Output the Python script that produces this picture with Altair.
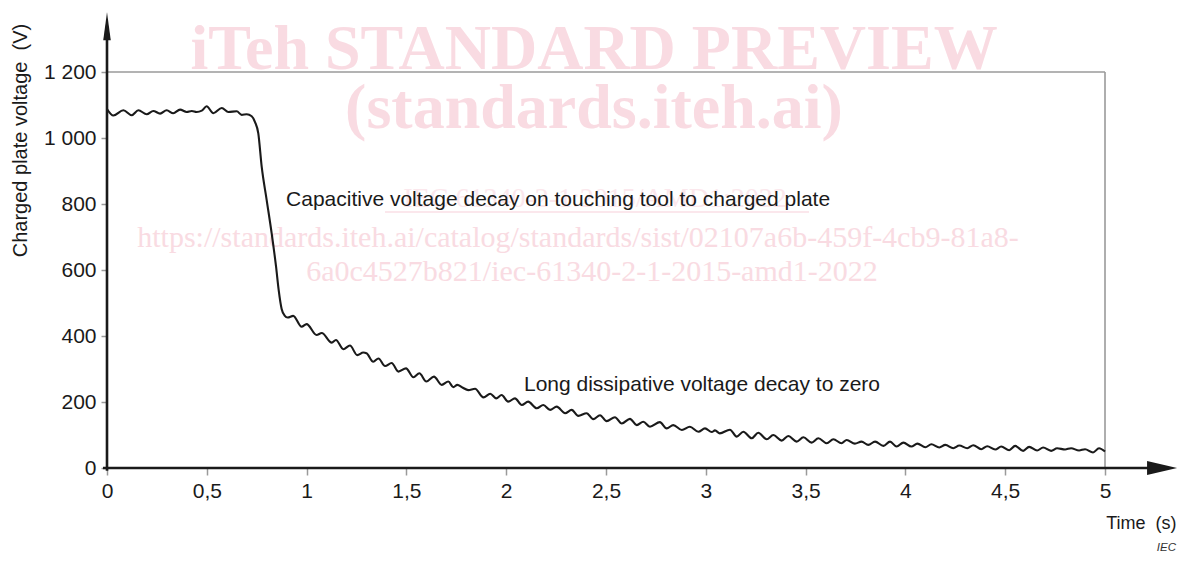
import altair as alt
import pandas as pd

# ---------------- data ----------------
time_s = [
    0.000, 0.032, 0.082, 0.124, 0.157, 0.199, 0.232, 0.266, 0.299, 0.332,
    0.366, 0.399, 0.425, 0.449, 0.475, 0.499, 0.533, 0.575, 0.608, 0.650,
    0.675, 0.700, 0.725, 0.741, 0.758, 0.775, 0.800, 0.825, 0.847, 0.860,
    0.875, 0.890, 0.905, 0.933, 0.975, 1.000, 1.050, 1.076, 1.126, 1.147,
    1.184, 1.217, 1.254, 1.284, 1.300, 1.334, 1.360, 1.393, 1.426, 1.460,
    1.498, 1.535, 1.565, 1.600, 1.638, 1.677, 1.710, 1.735, 1.755, 1.781,
    1.810, 1.844, 1.886, 1.920, 1.950, 1.977, 2.010, 2.044, 2.078, 2.110,
    2.153, 2.186, 2.220, 2.253, 2.295, 2.328, 2.361, 2.403, 2.436, 2.470,
    2.503, 2.545, 2.579, 2.620, 2.654, 2.687, 2.720, 2.770, 2.804, 2.837,
    2.880, 2.920, 2.963, 2.996, 3.030, 3.046, 3.070, 3.121, 3.155, 3.188,
    3.230, 3.263, 3.305, 3.338, 3.380, 3.413, 3.455, 3.489, 3.530, 3.564,
    3.606, 3.639, 3.680, 3.706, 3.747, 3.780, 3.814, 3.848, 3.890, 3.923,
    3.956, 3.990, 4.030, 4.060, 4.100, 4.130, 4.170, 4.200, 4.240, 4.270,
    4.310, 4.340, 4.380, 4.410, 4.450, 4.480, 4.520, 4.550, 4.590, 4.620,
    4.660, 4.690, 4.730, 4.760, 4.800, 4.830, 4.870, 4.900, 4.940, 4.970,
    5.000,
]
voltage_v = [
    1088, 1068, 1084, 1069, 1084, 1072, 1082, 1074, 1084, 1075,
    1086, 1079, 1082, 1079, 1083, 1096, 1075, 1091, 1079, 1081,
    1070, 1072, 1066, 1049, 1014, 913, 812, 711, 610, 540,
    482, 462, 456, 461, 428, 436, 403, 409, 380, 388,
    360, 371, 342, 350, 348, 322, 332, 309, 318, 292,
    302, 275, 287, 262, 277, 252, 262, 245, 252, 244,
    236, 240, 214, 225, 211, 221, 201, 211, 191, 201,
    181, 191, 176, 186, 166, 176, 158, 166, 148, 160,
    142, 154, 135, 149, 130, 140, 125, 139, 120, 130,
    115, 125, 110, 120, 109, 114, 105, 116, 95, 110,
    90, 107, 87, 100, 83, 97, 80, 93, 77, 90,
    75, 87, 75, 85, 74, 80, 70, 80, 67, 80,
    65, 77, 65, 74, 63, 72, 62, 70, 60, 68,
    60, 69, 57, 66, 56, 65, 54, 67, 52, 64,
    53, 62, 52, 60, 56, 60, 53, 57, 47, 60,
    50,
]
x_ticks = [0, 0.5, 1, 1.5, 2, 2.5, 3, 3.5, 4, 4.5, 5]
y_ticks = [0, 200, 400, 600, 800, 1000, 1200]
x_title = "Time\u00a0 (s)"
y_title = "Charged plate voltage\u00a0 (V)"
note_capacitive = "Capacitive voltage decay on touching tool to charged plate"
note_long = "Long dissipative voltage decay to zero"
source_tag = "IEC"
watermark_lines = [
    "iTeh STANDARD PREVIEW",
    "(standards.iteh.ai)",
    "IEC 61340-2-1:2015/AMD1:2022",
    "https://standards.iteh.ai/catalog/standards/sist/02107a6b-459f-4cb9-81a8-",
    "6a0c4527b821/iec-61340-2-1-2015-amd1-2022",
]

# ---------------- styling ----------------
FONT = "Liberation Sans"
SERIF = "Liberation Serif"
INK = "#1a1a1a"
GREY = "#9a9a9a"
WM = "#f9dbe2"
WM_FAINT = "#fbe7ec"

W, H = 998, 396
x_scale = alt.Scale(domain=[0, 5], nice=False, zero=False)
y_scale = alt.Scale(domain=[0, 1200], nice=False, zero=False)

X_AXIS = alt.Axis(
    values=x_ticks, domain=False, grid=False,
    tickColor=GREY, tickSize=7, tickWidth=1.5,
    labelExpr="replace(toString(datum.value), '.', ',')",
    labelFont=FONT, labelFontSize=21, labelColor=INK,
    labelPadding=5, labelFlush=False, labelOverlap=False,
    title=x_title, titleX=1069, titleY=55,
    titleAlign="right", titleBaseline="middle",
    titleFont=FONT, titleFontSize=18, titleFontWeight="normal",
    titleColor=INK,
)
Y_AXIS = alt.Axis(
    values=y_ticks, domain=False, grid=False,
    tickColor=GREY, tickSize=6, tickWidth=1.5,
    labelExpr="replace(format(datum.value, ','), ',', ' ')",
    labelFont=FONT, labelFontSize=21, labelColor=INK,
    labelPadding=5, labelOverlap=False,
    title=y_title, titleX=-87, titleY=68, titleAngle=270,
    titleAlign="center", titleBaseline="middle",
    titleFont=FONT, titleFontSize=20, titleFontWeight="normal",
    titleColor=INK,
)


def X():
    return alt.X("t:Q", scale=x_scale, axis=X_AXIS)


def Y():
    return alt.Y("v:Q", scale=y_scale, axis=Y_AXIS)


curve = pd.DataFrame({"t": time_s, "v": voltage_v})


def one(**kw):
    return pd.DataFrame({k: [v] for k, v in kw.items()})


def wm_text(text, x, y, size, bold, color):
    return alt.Chart(one(label=text)).mark_text(
        font=SERIF, fontSize=size, fontWeight="bold" if bold else "normal",
        color=color, align="center", baseline="alphabetic",
    ).encode(x=alt.value(x), y=alt.value(y), text="label:N")


watermark = [
    wm_text(watermark_lines[0], 487, -3, 64, True, WM),
    wm_text(watermark_lines[1], 487, 56, 64, True, WM),
    wm_text(watermark_lines[2], 488, 135, 28, False, WM_FAINT),
    wm_text(watermark_lines[3], 471, 175, 30, False, WM),
    wm_text(watermark_lines[4], 485, 209, 30, False, WM),
    alt.Chart(one(a=0)).mark_rule(color=WM_FAINT, strokeWidth=2).encode(
        x=alt.value(278), x2=alt.value(702), y=alt.value(140)
    ),
]

frame_top = alt.Chart(one(t=0, t2=5, v=1200)).mark_rule(
    color=GREY, strokeWidth=1.6
).encode(x=X(), x2="t2:Q", y=Y())
frame_right = alt.Chart(one(t=5, v=0, v2=1200)).mark_rule(
    color=GREY, strokeWidth=1.6
).encode(x=X(), y=Y(), y2="v2:Q")

axis_y_line = alt.Chart(one(t=0, v=-8, v2=1300)).mark_rule(
    color=INK, strokeWidth=2.6
).encode(x=X(), y=Y(), y2="v2:Q")
axis_x_line = alt.Chart(one(t=-0.02, t2=5.23, v=0)).mark_rule(
    color=INK, strokeWidth=2.6
).encode(x=X(), x2="t2:Q", y=Y())

arrow_up = alt.Chart(one(t=0, v=1339)).mark_point(
    shape="M0,-1L0.27,1L-0.27,1Z", filled=True, size=784, color=INK,
    opacity=1, strokeWidth=0,
).encode(x=X(), y=Y())
arrow_right = alt.Chart(one(t=5.286, v=0)).mark_point(
    shape="M1,0L-1,-0.47L-1,0.47Z", filled=True, size=900, color=INK,
    opacity=1, strokeWidth=0,
).encode(x=X(), y=Y())

line = alt.Chart(curve).mark_line(
    color=INK, strokeWidth=2.1, interpolate="monotone"
).encode(x=X(), y=Y())

note1 = alt.Chart(one(t=0.897, v=812, label=note_capacitive)).mark_text(
    font=FONT, fontSize=21, color=INK, align="left", baseline="middle"
).encode(x=X(), y=Y(), text="label:N")
note2 = alt.Chart(one(t=2.089, v=252, label=note_long)).mark_text(
    font=FONT, fontSize=21, color=INK, align="left", baseline="middle"
).encode(x=X(), y=Y(), text="label:N")

tag = alt.Chart(one(label=source_tag)).mark_text(
    font=FONT, fontSize=11.5, fontStyle="italic", color="#333333",
    align="right", baseline="alphabetic",
).encode(x=alt.value(1069), y=alt.value(479), text="label:N")

chart = alt.layer(
    *watermark,
    frame_top, frame_right,
    line,
    axis_y_line, axis_x_line, arrow_up, arrow_right,
    note1, note2, tag,
).properties(
    width=W, height=H,
    autosize=alt.AutoSizeParams(type="none"),
    padding={"left": 99, "top": 64, "right": 77, "bottom": 85},
).configure_view(stroke=None)

chart.save("out.html", embed_options={"renderer": "svg", "actions": False})
